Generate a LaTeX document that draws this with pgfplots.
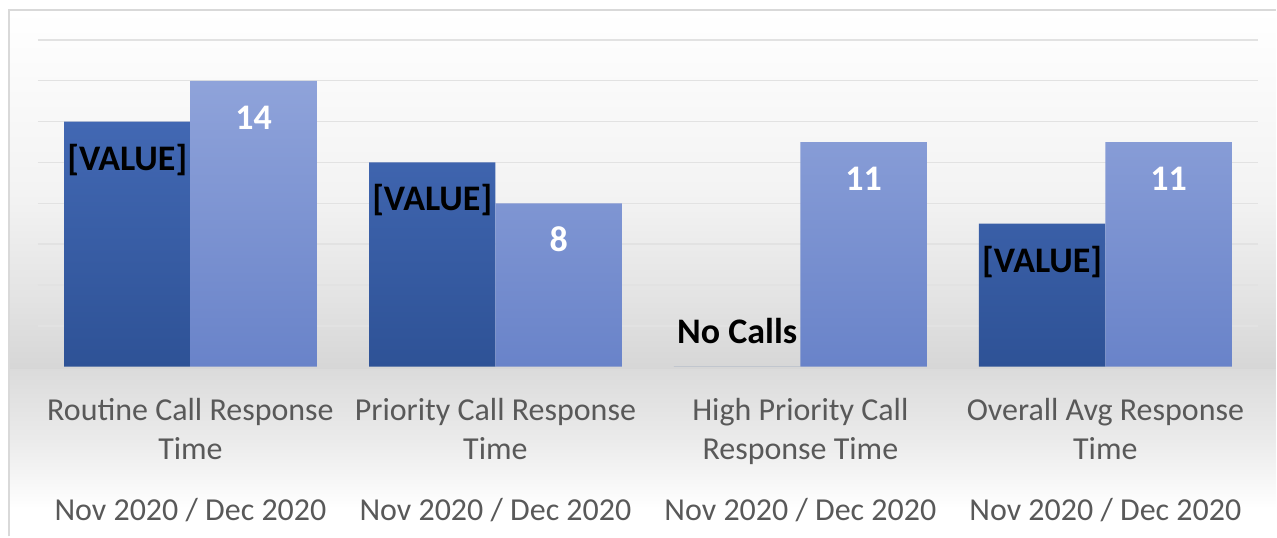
\documentclass[border=0pt]{standalone}
\usepackage{pgfplots}
\usepackage{pgfplotstable}
\pgfplotsset{compat=1.18}
\usepackage{fontspec}
\setmainfont{Carlito}
\definecolor{darkA}{HTML}{4268B3}
\definecolor{darkB}{HTML}{2E5296}
\definecolor{lightA}{HTML}{8FA3DA}
\definecolor{lightB}{HTML}{6983C9}
\definecolor{labelgray}{HTML}{595959}
\definecolor{gridc}{HTML}{E2E2E2}
\definecolor{framec}{HTML}{D9D9D9}

\pgfplotstableread{
x y lab dy
0 12 {[VALUE]} -24.25
1 10 {[VALUE]} -24.25
2 0 {No Calls} 11.5
3 7 {[VALUE]} -24.25
}\nov
\pgfplotstableread{
x y
0 14
1 8
2 11
3 11
}\dec

\begin{document}
\begin{tikzpicture}[x=1pt,y=1pt]
% canvas 638.5pt x 268.5pt  (1 px = 0.5 pt)
\path (0,0) rectangle (638.5,268.5);
% background gradient
\shade[top color=white,bottom color=black!5] (4.5,263.5) rectangle (638.5,168.5);
\shade[top color=black!5,bottom color=black!11] (4.5,168.5) rectangle (638.5,118.5);
\shade[top color=black!11,bottom color=black!16] (4.5,118.5) rectangle (638.5,83.5);
\shade[top color=black!14,bottom color=black!8] (4.5,83.5) rectangle (638.5,48.5);
\shade[top color=black!8,bottom color=white] (4.5,48.5) rectangle (638.5,14);
% frame
\draw[framec,line width=1.2pt] (4.5,0) -- (4.5,263.5) -- (638.5,263.5);

\begin{axis}[
  at={(19pt,85pt)}, anchor=south west,
  scale only axis, width=610.5pt, height=163.5pt,
  xmin=-0.5, xmax=3.5, ymin=0, ymax=16,
  enlargelimits=false,
  axis line style={draw=none},
  tick style={draw=none},
  ytick={2,4,...,16}, yticklabel=\empty,
  ymajorgrids, major grid style={gridc,line width=0.7pt},
  xtick={0,1,2,3},
  xticklabels={
    {Routine Call Response\\Time\\[11pt]Nov 2020 / Dec 2020},
    {Priority Call Response\\Time\\[11pt]Nov 2020 / Dec 2020},
    {High Priority Call\\Response Time\\[11pt]Nov 2020 / Dec 2020},
    {Overall Avg Response\\Time\\[11pt]Nov 2020 / Dec 2020}},
  xticklabel style={align=center, font=\fontsize{16}{19.5}\selectfont, text=labelgray, anchor=north, yshift=-8pt},
  ybar=0pt,
  bar width=0.4145,
  /pgf/number format/assume math mode=true,
]
\addplot[draw=none, top color=darkA, bottom color=darkB,
  point meta=explicit symbolic,
  visualization depends on={\thisrow{dy} \as \dy},
  nodes near coords,
  every node near coord/.append style={anchor=base, yshift=\dy, text=black, font=\fontsize{18}{20}\selectfont\bfseries}]
  table[x=x,y=y,meta=lab]{\nov};
\addplot[draw=none, top color=lightA, bottom color=lightB,
  nodes near coords,
  every node near coord/.append style={anchor=base, yshift=-24.25pt, text=white, font=\fontsize{18}{20}\selectfont\bfseries}]
  table[x=x,y=y]{\dec};
\end{axis}
\end{tikzpicture}
\end{document}
